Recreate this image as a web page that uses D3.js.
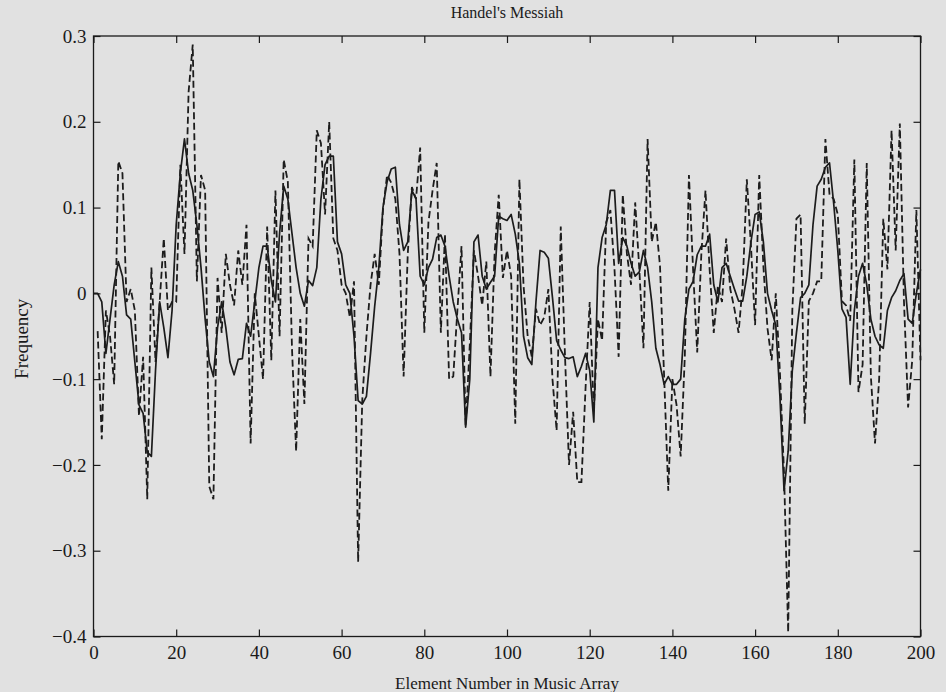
<!DOCTYPE html>
<html>
<head>
<meta charset="utf-8">
<script src="https://cdn.jsdelivr.net/npm/d3@7"></script>
<style>
  html, body { margin: 0; padding: 0; background: #e1e1e1; }
  svg { display: block; }
  text { font-family: "Liberation Serif", "DejaVu Serif", serif; fill: #1a1a1a; }
</style>
</head>
<body>
<svg id="chart" width="946" height="692"></svg>
<script>
const title = "Handel's Messiah";
const xLabel = "Element Number in Music Array";
const yLabel = "Frequency";
const xTicks = [0, 20, 40, 60, 80, 100, 120, 140, 160, 180, 200];
const yTicks = [0.3, 0.2, 0.1, 0, -0.1, -0.2, -0.3, -0.4];

// solid series, element 0..200
const solidValues = [
  0, 0, -0.01, -0.07, -0.03, 0.01, 0.037, 0.02, -0.025, -0.03,
  -0.08, -0.13, -0.14, -0.185, -0.19, -0.09, -0.01, -0.04, -0.075, -0.02,
  0.08, 0.14, 0.18, 0.14, 0.12, 0.08, 0.03, -0.03, -0.08, -0.097,
  -0.04, -0.01, -0.04, -0.08, -0.095, -0.077, -0.076, -0.035, -0.05, -0.01,
  0.03, 0.055, 0.055, 0.015, -0.01, 0.07, 0.125, 0.11, 0.07, 0.03,
  0.0, -0.015, 0.015, 0.009, 0.03, 0.11, 0.15, 0.16, 0.16, 0.06,
  0.046, 0.01, 0.0, -0.05, -0.125, -0.129, -0.12, -0.07, -0.015, 0.03,
  0.1, 0.13, 0.145, 0.147, 0.08, 0.05, 0.06, 0.12, 0.11, 0.02,
  0.01, 0.03, 0.04, 0.065, 0.068, 0.055, 0.02, -0.01, -0.03, -0.046,
  -0.156, -0.1, 0.06, 0.068, 0.02, 0.005, 0.013, 0.02, 0.09, 0.087,
  0.085, 0.092, 0.069, 0.035, -0.05, -0.075, -0.083, -0.01, 0.05, 0.048,
  0.041, -0.005, -0.055, -0.066, -0.075, -0.076, -0.074, -0.097, -0.085, -0.07,
  -0.09, -0.15, 0.03, 0.065, 0.08, 0.12, 0.12, 0.035, 0.065, 0.055,
  0.035, 0.02, 0.025, 0.05, 0.03, -0.01, -0.064, -0.083, -0.106, -0.097,
  -0.106, -0.106, -0.1, -0.03, 0.005, 0.014, 0.045, 0.055, 0.055, 0.069,
  0.01, -0.01, 0.03, 0.035, 0.02, 0.005, -0.009, -0.009, 0.02, 0.06,
  0.092, 0.095, 0.06, 0.0, -0.02, -0.037, -0.12, -0.23, -0.184, -0.09,
  -0.046, -0.005, 0.0, 0.01, 0.08, 0.125, 0.133, 0.147, 0.152, 0.105,
  0.05, -0.018, -0.028, -0.106, -0.02, 0.02, 0.035, 0.01, -0.03, -0.05,
  -0.06, -0.064, -0.02, -0.005, 0.003, 0.015, 0.023, -0.03, -0.035, 0.0,
  0.028
];

// dashed series, element 1..200
const dashedValues = [
  -0.044, -0.17, -0.02, -0.05, -0.106, 0.154, 0.14, -0.01, 0.005, -0.02,
  -0.143, -0.074, -0.24, 0.03, -0.08, -0.01, 0.064, -0.02, -0.01, -0.01,
  0.15, 0.046, 0.235, 0.29, 0.014, 0.138, 0.12, -0.225, -0.24, 0.018,
  -0.046, 0.046, 0.01, -0.014, 0.05, 0.01, 0.08, -0.175, 0.0, -0.05,
  -0.1, 0.078, -0.078, 0.12, -0.05, 0.156, 0.13, -0.064, -0.184, -0.03,
  -0.129, 0.064, 0.055, 0.19, 0.175, 0.092, 0.2, 0.064, 0.05, 0.01,
  0.0, -0.028, 0.014, -0.313, -0.124, -0.05, 0.01, 0.046, 0.01, 0.097,
  0.138, 0.129, 0.11, 0.046, -0.097, 0.046, 0.124, 0.11, 0.17, -0.046,
  0.083, 0.12, 0.152, -0.046, 0.069, -0.1, -0.097, -0.02, 0.055, -0.155,
  -0.06, 0.05, 0.02, -0.014, 0.037, -0.097, 0.046, 0.115, 0.018, 0.05,
  0.02, -0.152, 0.133, 0.009, -0.05, -0.074, -0.018, -0.037, -0.028, 0.005,
  -0.1, -0.16, 0.078, -0.069, -0.2, -0.138, -0.22, -0.22, -0.11, -0.01,
  -0.138, -0.03, -0.055, 0.083, 0.097, 0.028, -0.074, 0.115, 0.046, 0.01,
  0.106, 0.028, -0.064, 0.18, 0.06, 0.083, 0.032, -0.097, -0.23, -0.1,
  -0.13, -0.19, -0.074, 0.138, 0.028, -0.069, 0.046, 0.12, 0.028, -0.046,
  0.009, -0.01, 0.064, 0.005, -0.018, -0.046, 0.01, 0.133, 0.055, -0.037,
  0.138, 0.032, -0.041, -0.078, 0.0, -0.092, -0.21, -0.395, -0.02, 0.087,
  0.092, -0.152, -0.009, 0.0, 0.014, 0.014, 0.18, 0.115, 0.11, 0.092,
  -0.009, -0.014, -0.032, 0.156, -0.115, -0.083, 0.152, -0.097, -0.175, -0.1,
  0.087, 0.028, 0.19, 0.05, 0.198, -0.009, -0.133, -0.078, 0.097, -0.078
];

const svg = d3.select("#chart");
const W = 946, H = 692;
const m = { left: 93.5, right: 946 - 920.5, top: 36, bottom: 692 - 636.5 };
const iw = W - m.left - m.right, ih = H - m.top - m.bottom;

const x = d3.scaleLinear().domain([0, 200]).range([m.left, m.left + iw]);
const y = d3.scaleLinear().domain([-0.4, 0.3]).range([m.top + ih, m.top]);

const fmt = v => (v < 0 ? "\u2212" + Math.abs(v) : String(v));

// frame
svg.append("rect")
  .attr("x", m.left).attr("y", m.top).attr("width", iw).attr("height", ih)
  .attr("fill", "none").attr("stroke", "#1a1a1a").attr("stroke-width", 1.3);

const tickLen = 7;
const xb = svg.append("g").attr("transform", `translate(0,${m.top + ih})`)
  .call(d3.axisBottom(x).tickValues(xTicks).tickSize(-tickLen).tickPadding(9).tickFormat(fmt));
const xt = svg.append("g").attr("transform", `translate(0,${m.top})`)
  .call(d3.axisTop(x).tickValues(xTicks).tickSize(-tickLen).tickFormat(""));
const yl = svg.append("g").attr("transform", `translate(${m.left},0)`)
  .call(d3.axisLeft(y).tickValues(yTicks).tickSize(-tickLen).tickPadding(7).tickFormat(fmt));
const yr = svg.append("g").attr("transform", `translate(${m.left + iw},0)`)
  .call(d3.axisRight(y).tickValues(yTicks).tickSize(-tickLen).tickFormat(""));

[xb, xt, yl, yr].forEach(g => {
  g.select(".domain").remove();
  g.selectAll(".tick line").attr("stroke", "#1a1a1a").attr("stroke-width", 1.2);
  g.selectAll(".tick text")
    .attr("font-family", "'Liberation Serif', 'DejaVu Serif', serif")
    .attr("font-size", 19).attr("fill", "#1a1a1a");
});

const solidData = solidValues.map((v, i) => [i, v]);
const dashedData = dashedValues.map((v, i) => [i + 1, v]);
const line = d3.line().x(d => x(d[0])).y(d => y(d[1]));

svg.append("path").datum(solidData)
  .attr("d", line).attr("fill", "none")
  .attr("stroke", "#1c1c1c").attr("stroke-width", 1.7)
  .attr("stroke-linejoin", "round");

svg.append("path").datum(dashedData)
  .attr("d", line).attr("fill", "none")
  .attr("stroke", "#1c1c1c").attr("stroke-width", 1.8)
  .attr("stroke-dasharray", "7,3.5");

svg.append("text").attr("x", x(100)).attr("y", 18)
  .attr("text-anchor", "middle").attr("font-size", 16).text(title);
svg.append("text").attr("x", x(100)).attr("y", 689)
  .attr("text-anchor", "middle").attr("font-size", 17).text(xLabel);
svg.append("text")
  .attr("transform", `translate(28,${y(-0.053)}) rotate(-90)`)
  .attr("text-anchor", "middle").attr("font-size", 19).text(yLabel);
</script>
</body>
</html>
